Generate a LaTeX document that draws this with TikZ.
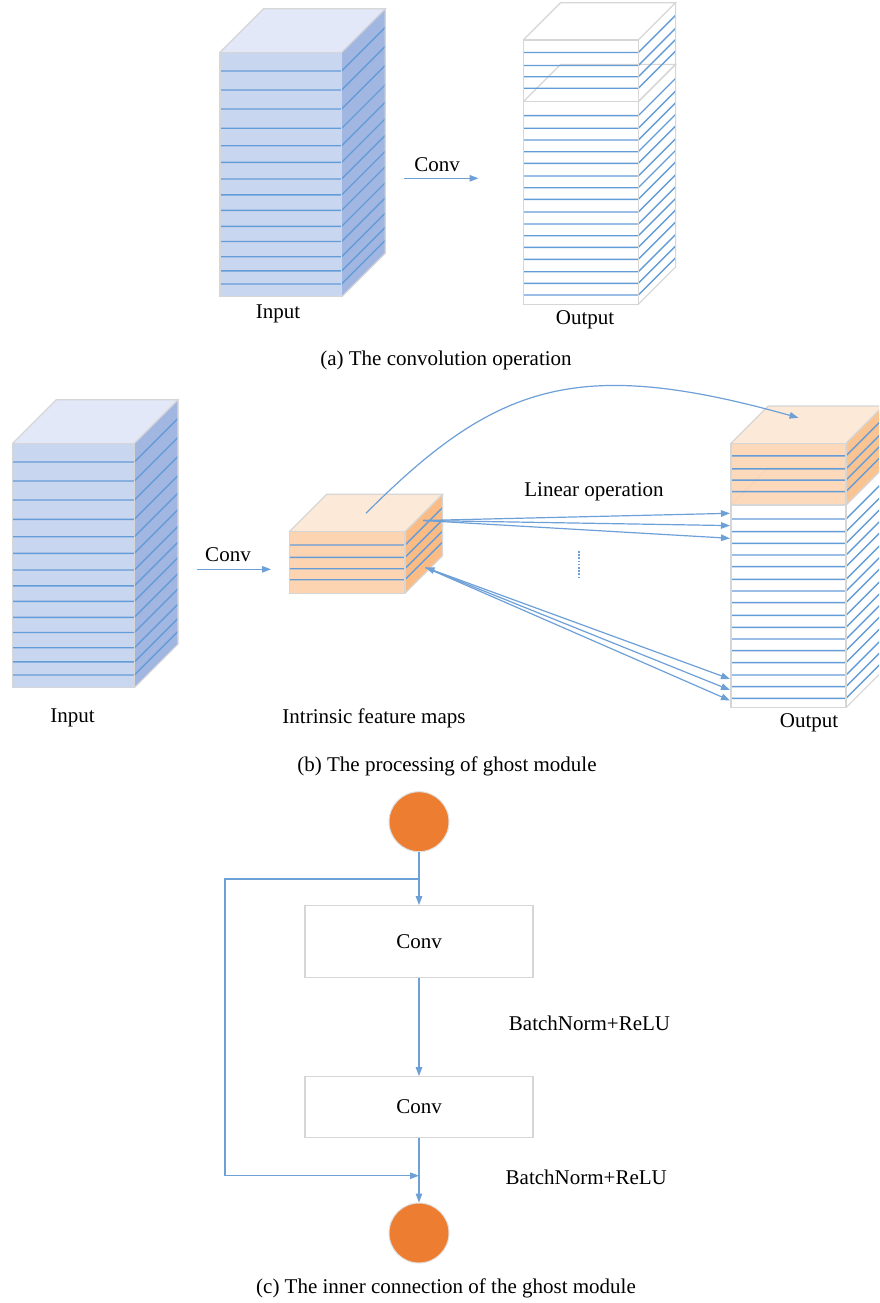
\documentclass[tikz,border=0pt]{standalone}
\usepackage{fontspec}
\setmainfont{Liberation Serif}
\usetikzlibrary{arrows.meta}

\definecolor{edgegray}{RGB}{214,214,214}
\definecolor{stripeblue}{RGB}{100,156,216}
\definecolor{connblue}{RGB}{110,160,216}
\definecolor{bfront}{RGB}{201,214,240}
\definecolor{btop}{RGB}{226,232,247}
\definecolor{bside}{RGB}{162,182,226}
\definecolor{ofront}{RGB}{252,212,178}
\definecolor{otop}{RGB}{253,233,216}
\definecolor{oside}{RGB}{250,188,132}
\definecolor{dotfill}{RGB}{237,125,49}

\tikzset{
  edge/.style={draw=edgegray, line width=1.2pt, line join=miter},
  stripeline/.style={draw=stripeblue, line width=1.4pt},
  conn/.style={draw=connblue, line width=1.2pt},
  tip/.style={-{Triangle[length=9pt,width=6.5pt]}},
  label/.style={inner sep=0pt, font=\fontsize{21}{25}\selectfont},
  convbox/.style={draw=edgegray, line width=1.2pt, fill=white, minimum width=228pt,
    inner sep=0pt, font=\fontsize{21}{25}\selectfont},
  ball/.style={circle, fill=dotfill, draw=black!12, line width=1pt, minimum size=60pt, inner sep=0pt},
}

% A striped slab in cabinet projection.
% #1,#2 front top-left corner; #3 width; #4 height; #5 depth;
% #6 front fill; #7 top fill; #8 side fill; #9 stripe offsets from the top
\newcommand\slab[9]{%
  \begin{scope}[shift={(#1,#2)}]
    \fill[#6] (0,0) rectangle (#3,#4);
    \fill[#7] (0,0) -- (#5,-#5) -- ({#3+#5},-#5) -- (#3,0) -- cycle;
    \fill[#8] (#3,0) -- ({#3+#5},-#5) -- ({#3+#5},{#4-#5}) -- (#3,#4) -- cycle;
    \foreach \s in {#9} {
      \draw[stripeline] (0,\s) -- (#3,\s) -- ({#3+#5},{\s-#5});
    }
    \draw[edge] (0,0) rectangle (#3,#4);
    \draw[edge] (0,0) -- (#5,-#5) -- ({#3+#5},-#5) -- (#3,0);
    \draw[edge] ({#3+#5},-#5) -- ({#3+#5},{#4-#5}) -- (#3,#4);
  \end{scope}}

% Input tensor: tall blue block
\newcommand\inputblock[2]{%
  \slab{#1}{#2}{121.7}{244.4}{43.6}{bfront}{btop}{bside}%
    {18.7,37.7,56.7,76,93.4,110,126.7,142.5,158,174,189.2,204.4,218.6,231.7}}

% Output tensor: lower white block with an upper block on top
\newcommand\outputblock[5]{%
  \slab{#1}{#2+61.7}{115}{202.6}{37.3}{white}{white}{white}%
    {14,26.6,38.3,50,61.6,74.3,86,97.6,110.3,122.3,134,145.6,157.6,170,181.6,193.3}
  \slab{#1}{#2}{115}{61.7}{37.3}{#3}{#4}{#5}{12.5,25.5,36.8,48.3}}

\begin{document}
\begin{tikzpicture}[x=1pt, y=-1pt]
  \clip (0,0) rectangle (879,1303);
  \fill[white] (0,0) rectangle (879,1303);

  % ---------------- (a) convolution ----------------
  \inputblock{220}{52.3}
  \outputblock{523.3}{40}{fill opacity=0}{fill opacity=0}{fill opacity=0}
  \coordinate (aconvS) at (404,178.3);
  \coordinate (aconvE) at (478.5,178.3);
  \draw[conn, tip] (aconvS) -- (aconvE);
  \node[label] (aconv) at (437,165) {Conv};
  \node[label] (ain) at (278,314) {Input};
  \node[label] (aout) at (585,320) {Output};
  \node[label] (capa) at (446,360) {(a) The convolution operation};

  % ---------------- (b) ghost module ----------------
  \inputblock{12.7}{443.3}
  \slab{289.3}{531.7}{115.7}{61.6}{37.5}{ofront}{otop}{oside}{13.3,25.6,37,48}
  \outputblock{731}{443.3}{ofront, fill opacity=0.88}{otop}{oside, fill opacity=0.88}

  \coordinate (bconvS) at (196.7,569.3);
  \coordinate (bconvE) at (271,569.3);
  \draw[conn, tip] (bconvS) -- (bconvE);
  \node[label] (bconv) at (228,555) {Conv};

  % identity path to the top of the output block
  \coordinate (idS) at (366,513.3);
  \coordinate (idE) at (798.5,417.8);
  \draw[conn, tip] (idS) .. controls (496,383) and (578,356) .. (idE);

  % linear operations
  \coordinate (linA) at (423.3,520.5);
  \coordinate (linB) at (425.5,567.5);
  \coordinate (o1) at (730,513.3);
  \coordinate (o2) at (730,525.6);
  \coordinate (o3) at (730,538.3);
  \coordinate (o4) at (730,679);
  \coordinate (o5) at (730,690);
  \coordinate (o6) at (730,700.5);
  \draw[conn, tip] (linA) -- (o1);
  \draw[conn, tip] (linA) -- (o2);
  \draw[conn, tip] (linA) -- (o3);
  \draw[conn, {Triangle[length=9pt,width=6.5pt]}-{Triangle[length=9pt,width=6.5pt]}] (linB) -- (o4);
  \draw[conn, tip] (linB) -- (o5);
  \draw[conn, tip] (linB) -- (o6);
  \coordinate (dotsT) at (578.7,551);
  \coordinate (dotsB) at (578.7,578);
  \draw[draw=connblue, line width=1.8pt, dash pattern=on 1.6pt off 1.6pt] (dotsT) -- (dotsB);

  \node[label] (lin) at (594,492) {Linear operation};
  \node[label] (bin) at (72.5,718) {Input};
  \node[label] (bintr) at (374,718) {Intrinsic feature maps};
  \node[label] (bout) at (809,723) {Output};
  \node[label] (capb) at (447,766) {(b) The processing of ghost module};

  % ---------------- (c) inner connection ----------------
  \node[ball] (cin) at (419,821.7) {};
  \node[convbox, minimum height=72pt] (conv1) at (419,941.7) {Conv};
  \node[convbox, minimum height=60.6pt] (conv2) at (419,1107) {Conv};
  \node[ball] (cout) at (419,1233) {};
  \coordinate (split) at (419,879);
  \coordinate (skipT) at (225,879);
  \coordinate (skipB) at (225,1175.7);
  \coordinate (merge) at (419,1175.7);
  \draw[conn, tip] (cin) -- (conv1);
  \draw[conn, tip] (conv1) -- (conv2);
  \draw[conn, tip] (conv2) -- (cout);
  \draw[conn, tip] (split) -- (skipT) -- (skipB) -- (merge);
  \node[label] (bn1) at (589.5,1023) {BatchNorm+ReLU};
  \node[label] (bn2) at (586.3,1177.5) {BatchNorm+ReLU};
  \node[label] (capc) at (446,1288) {(c) The inner connection of the ghost module};
\end{tikzpicture}
\end{document}
